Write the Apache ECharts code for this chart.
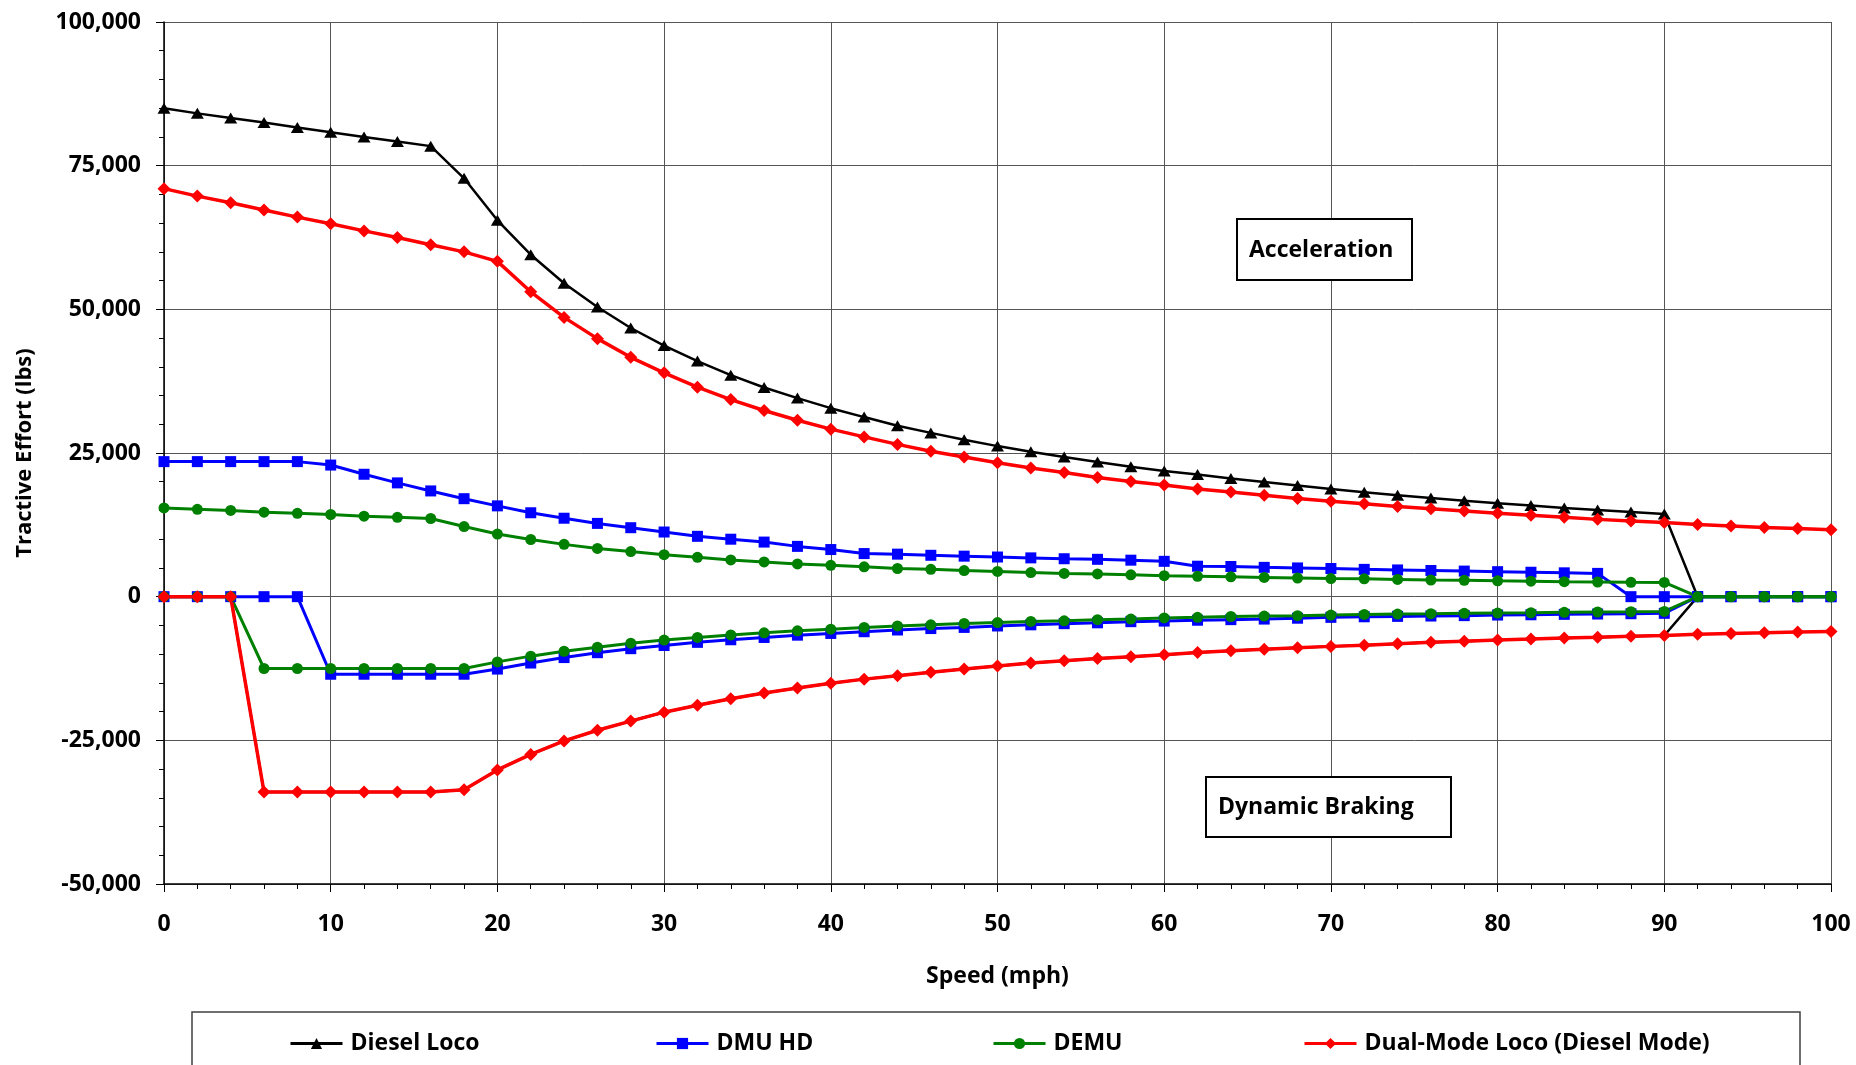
<!DOCTYPE html>
<html><head><meta charset="utf-8">
<script src="https://cdn.jsdelivr.net/npm/echarts@6/dist/echarts.min.js"></script>
<style>html,body{margin:0;padding:0;background:#fff}#c{width:1856px;height:1065px}</style>
</head><body><div id="c"></div><script>
// Speed (mph) sample points
const speeds = [0,2,4,6,8,10,12,14,16,18,20,22,24,26,28,30,32,34,36,38,40,42,44,46,48,50,52,54,56,58,60,62,64,66,68,70,72,74,76,78,80,82,84,86,88,90,92,94,96,98,100];

const seriesNames = ['Diesel Loco', 'DMU HD', 'DEMU', 'Dual-Mode Loco (Diesel Mode)'];
const yTicks = [-50000, -25000, 0, 25000, 50000, 75000, 100000];
const xTicks = [0,10,20,30,40,50,60,70,80,90,100];

// Acceleration (positive tractive effort), lbs
const dieselAccel = [85000,84100,83300,82500,81650,80800,80000,79200,78400,72800,65500,59500,54550,50400,46750,43700,41000,38550,36400,34550,32800,31250,29750,28500,27300,26200,25200,24300,23450,22600,21850,21250,20550,19950,19350,18750,18150,17650,17150,16700,16250,15850,15450,15100,14750,14400,0];
const dmuAccel = [23500,23500,23500,23500,23500,22900,21300,19800,18400,17050,15800,14600,13650,12750,12000,11250,10500,10000,9500,8750,8200,7500,7400,7200,7050,6900,6750,6600,6500,6350,6150,5300,5250,5100,5000,4900,4750,4650,4550,4450,4350,4250,4150,4050,0,0,0,0,0,0,0];
const demuAccel = [15450,15200,15000,14700,14500,14300,14000,13800,13600,12200,10900,9950,9100,8400,7850,7300,6850,6400,6050,5700,5450,5200,4900,4750,4550,4400,4200,4050,3950,3800,3650,3550,3450,3350,3250,3150,3100,3000,2900,2850,2750,2700,2600,2550,2500,2480,0,0,0,0,0];
const dualAccel = [71000,69700,68550,67300,66050,64900,63650,62500,61250,60000,58350,53050,48600,44900,41650,38950,36450,34300,32400,30700,29150,27800,26500,25300,24300,23300,22400,21600,20750,20050,19450,18750,18200,17650,17100,16600,16150,15700,15300,14900,14500,14150,13800,13450,13150,12900,12550,12300,12050,11850,11650];

// Dynamic braking (negative tractive effort), lbs
const dieselBrake = [0,0,0,-34000,-34000,-34000,-34000,-34000,-34000,-33600,-30150,-27450,-25100,-23250,-21650,-20100,-18900,-17750,-16750,-15900,-15050,-14350,-13750,-13150,-12600,-12050,-11550,-11150,-10750,-10450,-10100,-9700,-9400,-9150,-8900,-8650,-8450,-8200,-7950,-7750,-7550,-7380,-7200,-7080,-6900,-6750,0];
const dmuBrake = [0,0,0,0,0,-13500,-13500,-13500,-13500,-13500,-12600,-11550,-10600,-9750,-9050,-8500,-7950,-7500,-7100,-6700,-6400,-6100,-5800,-5550,-5350,-5100,-4900,-4700,-4550,-4350,-4250,-4100,-4000,-3900,-3750,-3600,-3500,-3430,-3370,-3300,-3200,-3150,-3080,-3020,-2970,-2900,0,0,0,0,0];
const demuBrake = [0,0,0,-12500,-12500,-12500,-12500,-12500,-12500,-12500,-11350,-10350,-9500,-8800,-8100,-7550,-7100,-6650,-6300,-5950,-5650,-5350,-5100,-4900,-4650,-4500,-4300,-4200,-4000,-3900,-3700,-3600,-3450,-3380,-3300,-3200,-3100,-3020,-2970,-2900,-2850,-2800,-2730,-2670,-2620,-2560,0,0,0,0,0];
const dualBrake = [0,0,0,-34000,-34000,-34000,-34000,-34000,-34000,-33600,-30150,-27450,-25100,-23250,-21650,-20100,-18900,-17750,-16750,-15900,-15050,-14350,-13750,-13150,-12600,-12050,-11550,-11150,-10750,-10450,-10100,-9700,-9400,-9150,-8900,-8650,-8450,-8200,-7950,-7750,-7550,-7380,-7200,-7080,-6900,-6750,-6550,-6400,-6300,-6150,-6050];

const FONT = "'Open Sans', 'Liberation Sans', sans-serif";
function pairs(vals) { return vals.map((v, i) => [speeds[i], v]); }

const styles = [
  {color: '#000000', symbol: 'triangle', size: [13, 11], width: 2.5},
  {color: '#0000ff', symbol: 'rect', size: 11, width: 3},
  {color: '#008000', symbol: 'circle', size: 11, width: 3},
  {color: '#ff0000', symbol: 'diamond', size: 13, width: 3.5}
];
const accelSets = [dieselAccel, dmuAccel, demuAccel, dualAccel];
const brakeSets = [dieselBrake, dmuBrake, demuBrake, dualBrake];

const series = [];
seriesNames.forEach((name, i) => {
  const st = styles[i];
  let acc = pairs(accelSets[i]);
  if (i === 0) {
    // end point of the diesel acceleration curve has no marker
    acc = acc.map((p, k) => k === acc.length - 1 ? {value: p, symbol: 'none'} : p);
  }
  series.push({
    name, type: 'line', data: acc,
    symbol: st.symbol, symbolSize: st.size, showAllSymbol: true,
    lineStyle: {color: st.color, width: st.width},
    itemStyle: {color: st.color},
    emphasis: {disabled: true}, silent: true
  });
  const brakeIsLineOnly = (i === 0);
  series.push({
    name, type: 'line', data: pairs(brakeSets[i]),
    symbol: brakeIsLineOnly ? 'none' : st.symbol, symbolSize: st.size, showAllSymbol: true,
    lineStyle: {color: st.color, width: st.width},
    itemStyle: {color: st.color},
    emphasis: {disabled: true}, silent: true
  });
});

const legendLefts = [284, 650, 987, 1298];
const chart = echarts.init(document.getElementById('c'), null, {renderer: 'canvas'});
chart.setOption({
  animation: false,
  backgroundColor: '#ffffff',
  grid: {left: 164, top: 22, right: 25, bottom: 181, containLabel: false, show: false},
  xAxis: {
    type: 'value', min: xTicks[0], max: xTicks[xTicks.length - 1], interval: 10,
    name: 'Speed (mph)', nameLocation: 'middle', nameGap: 81,
    nameTextStyle: {fontFamily: FONT, fontWeight: 'bold', fontSize: 23, color: '#000'},
    axisLine: {show: true, onZero: false, lineStyle: {color: '#000', width: 1.5}},
    axisTick: {show: true, length: 8, lineStyle: {color: '#000', width: 1}},
    minorTick: {show: true, splitNumber: 5, length: 5, lineStyle: {color: '#000', width: 1}},
    axisLabel: {fontFamily: FONT, fontWeight: 'bold', fontSize: 23, color: '#000', margin: 29},
    splitLine: {show: true, lineStyle: {color: '#555', width: 1}}
  },
  yAxis: {
    type: 'value', min: yTicks[0], max: yTicks[yTicks.length - 1], interval: 25000,
    name: 'Tractive Effort (lbs)', nameLocation: 'middle', nameGap: 128,
    nameTextStyle: {fontFamily: FONT, fontWeight: 'bold', fontSize: 22, color: '#000'},
    axisLine: {show: true, onZero: false, lineStyle: {color: '#000', width: 1.5}},
    axisTick: {show: true, length: 8, lineStyle: {color: '#000', width: 1}},
    minorTick: {show: true, splitNumber: 5, length: 5, lineStyle: {color: '#000', width: 1}},
    axisLabel: {fontFamily: FONT, fontWeight: 'bold', fontSize: 23, color: '#000', margin: 23,
      formatter: v => v.toLocaleString('en-US')},
    splitLine: {show: true, lineStyle: {color: '#555', width: 1}}
  },
  legend: seriesNames.map((n, i) => ({
    data: [n], left: legendLefts[i], top: 1027, orient: 'horizontal',
    itemWidth: 52, itemHeight: 14, itemGap: 0, selectedMode: false,
    lineStyle: {width: 3},
    textStyle: {fontFamily: FONT, fontWeight: 'bold', fontSize: 23, color: '#000', padding: [0, 0, 0, 3]}
  })),
  graphic: [
    {type: 'rect', silent: true, z: 0, shape: {x: 192, y: 1012, width: 1608, height: 100},
      style: {fill: 'none', stroke: '#404040', lineWidth: 1.5}},
    {type: 'rect', silent: true, z: 10, shape: {x: 1237, y: 219, width: 175, height: 61},
      style: {fill: '#fff', stroke: '#000', lineWidth: 2}},
    {type: 'text', silent: true, z: 11, x: 1249, y: 250,
      style: {text: 'Acceleration', fontFamily: FONT, fontWeight: 'bold', fontSize: 23, fill: '#000', verticalAlign: 'middle'}},
    {type: 'rect', silent: true, z: 10, shape: {x: 1206, y: 777, width: 245, height: 60},
      style: {fill: '#fff', stroke: '#000', lineWidth: 2}},
    {type: 'text', silent: true, z: 11, x: 1218, y: 807,
      style: {text: 'Dynamic Braking', fontFamily: FONT, fontWeight: 'bold', fontSize: 23, fill: '#000', verticalAlign: 'middle'}}
  ],
  series
});
</script></body></html>
